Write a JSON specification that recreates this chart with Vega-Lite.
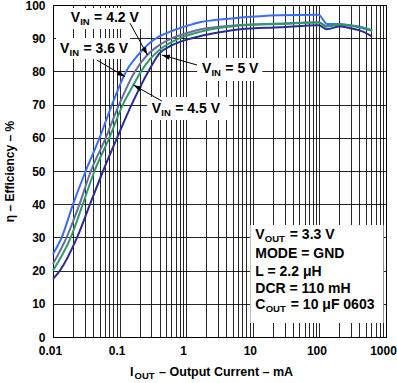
{
  "$schema": "https://vega.github.io/schema/vega-lite/v6.json",
  "width": 333,
  "height": 332,
  "autosize": "none",
  "padding": {"left": 53, "top": 5, "right": 11, "bottom": 46},
  "config": {
    "font": "Liberation Sans",
    "view": {"stroke": "#000", "strokeWidth": 1},
    "axis": {
      "labelFont": "Liberation Sans", "labelFontWeight": "bold", "labelFontSize": 12, "labelColor": "#000",
      "titleFont": "Liberation Sans", "titleFontWeight": "bold", "titleFontSize": 12, "titleColor": "#000",
      "gridColor": "#000", "gridOpacity": 0.85, "gridWidth": 1, "domain": false, "tickSize": 0, "labelPadding": 8
    }
  },
  "datasets": {
    "curves": [
      {"s": "3.6 V", "I": 0.01, "eff": 25}, {"s": "3.6 V", "I": 0.0135, "eff": 30}, {"s": "3.6 V", "I": 0.02, "eff": 40}, {"s": "3.6 V", "I": 0.031, "eff": 50}, {"s": "3.6 V", "I": 0.05, "eff": 60}, {"s": "3.6 V", "I": 0.077, "eff": 70}, {"s": "3.6 V", "I": 0.125, "eff": 80}, {"s": "3.6 V", "I": 0.2, "eff": 85.5}, {"s": "3.6 V", "I": 0.28, "eff": 88.5}, {"s": "3.6 V", "I": 0.4, "eff": 90.6}, {"s": "3.6 V", "I": 0.65, "eff": 92.4}, {"s": "3.6 V", "I": 1.1, "eff": 93.9}, {"s": "3.6 V", "I": 1.6, "eff": 94.8}, {"s": "3.6 V", "I": 2.5, "eff": 95.4}, {"s": "3.6 V", "I": 6.5, "eff": 96.2}, {"s": "3.6 V", "I": 25, "eff": 96.9}, {"s": "3.6 V", "I": 97, "eff": 97.1}, {"s": "3.6 V", "I": 130, "eff": 94.3}, {"s": "3.6 V", "I": 200, "eff": 94.2}, {"s": "3.6 V", "I": 290, "eff": 93.8}, {"s": "3.6 V", "I": 450, "eff": 93}, {"s": "3.6 V", "I": 620, "eff": 92.3},
      {"s": "4.2 V", "I": 0.01, "eff": 22}, {"s": "4.2 V", "I": 0.016, "eff": 30}, {"s": "4.2 V", "I": 0.025, "eff": 40}, {"s": "4.2 V", "I": 0.037, "eff": 50}, {"s": "4.2 V", "I": 0.062, "eff": 60}, {"s": "4.2 V", "I": 0.098, "eff": 70}, {"s": "4.2 V", "I": 0.17, "eff": 80}, {"s": "4.2 V", "I": 0.262, "eff": 85}, {"s": "4.2 V", "I": 0.4, "eff": 88}, {"s": "4.2 V", "I": 0.58, "eff": 89.8}, {"s": "4.2 V", "I": 1, "eff": 91.5}, {"s": "4.2 V", "I": 1.6, "eff": 92.6}, {"s": "4.2 V", "I": 6.5, "eff": 94}, {"s": "4.2 V", "I": 26, "eff": 94.4}, {"s": "4.2 V", "I": 97, "eff": 94.8}, {"s": "4.2 V", "I": 130, "eff": 93.6}, {"s": "4.2 V", "I": 200, "eff": 94.2}, {"s": "4.2 V", "I": 290, "eff": 93.9}, {"s": "4.2 V", "I": 450, "eff": 93.2}, {"s": "4.2 V", "I": 620, "eff": 92.3},
      {"s": "4.5 V", "I": 0.01, "eff": 20}, {"s": "4.5 V", "I": 0.0185, "eff": 30}, {"s": "4.5 V", "I": 0.028, "eff": 40}, {"s": "4.5 V", "I": 0.042, "eff": 50}, {"s": "4.5 V", "I": 0.07, "eff": 60}, {"s": "4.5 V", "I": 0.112, "eff": 70}, {"s": "4.5 V", "I": 0.16, "eff": 75.8}, {"s": "4.5 V", "I": 0.2, "eff": 79.3}, {"s": "4.5 V", "I": 0.28, "eff": 83.5}, {"s": "4.5 V", "I": 0.4, "eff": 86.5}, {"s": "4.5 V", "I": 0.8, "eff": 90}, {"s": "4.5 V", "I": 1.6, "eff": 91.9}, {"s": "4.5 V", "I": 6.5, "eff": 93.8}, {"s": "4.5 V", "I": 26, "eff": 94.3}, {"s": "4.5 V", "I": 97, "eff": 94.7}, {"s": "4.5 V", "I": 130, "eff": 93.5}, {"s": "4.5 V", "I": 200, "eff": 94.1}, {"s": "4.5 V", "I": 290, "eff": 93.8}, {"s": "4.5 V", "I": 450, "eff": 93.1}, {"s": "4.5 V", "I": 620, "eff": 92.2},
      {"s": "5 V", "I": 0.01, "eff": 17.5}, {"s": "5 V", "I": 0.0127, "eff": 20}, {"s": "5 V", "I": 0.023, "eff": 30}, {"s": "5 V", "I": 0.036, "eff": 40}, {"s": "5 V", "I": 0.0565, "eff": 50}, {"s": "5 V", "I": 0.0917, "eff": 60}, {"s": "5 V", "I": 0.1515, "eff": 70}, {"s": "5 V", "I": 0.27, "eff": 80}, {"s": "5 V", "I": 0.4, "eff": 85.5}, {"s": "5 V", "I": 0.6, "eff": 87.8}, {"s": "5 V", "I": 1, "eff": 89.5}, {"s": "5 V", "I": 1.6, "eff": 90.6}, {"s": "5 V", "I": 3, "eff": 91.7}, {"s": "5 V", "I": 6.5, "eff": 92.7}, {"s": "5 V", "I": 26, "eff": 93.3}, {"s": "5 V", "I": 97, "eff": 93.9}, {"s": "5 V", "I": 130, "eff": 92.7}, {"s": "5 V", "I": 200, "eff": 93.5}, {"s": "5 V", "I": 290, "eff": 93}, {"s": "5 V", "I": 450, "eff": 92}, {"s": "5 V", "I": 620, "eff": 90.5}
    ],
    "boxes": [
      {"I": 0.01569, "I2": 0.2105, "eff": 99.1, "eff2": 92.77},
      {"I": 0.0111, "I2": 0.1438, "eff": 90.06, "eff2": 83.73},
      {"I": 1.464, "I2": 13.9, "eff": 84.04, "eff2": 77.11},
      {"I": 0.2592, "I2": 4.43, "eff": 72.29, "eff2": 65.36},
      {"I": 9.17, "I2": 917, "eff": 33.73, "eff2": 4.22}
    ],
    "arrows": [
      {"id": "4.2", "I": 0.1438, "eff": 94.49, "I2": 0.2618, "eff2": 84.94},
      {"id": "3.6", "I": 0.0454, "eff": 83.43, "I2": 0.121, "eff2": 78.4},
      {"id": "5", "I": 1.449, "eff": 81.93, "I2": 0.431, "eff2": 84.94},
      {"id": "4.5", "I": 0.431, "eff": 71.08, "I2": 0.1615, "eff2": 75.9}
    ],
    "heads": [
      {"id": "4.2", "I": 0.2618, "eff": 84.94},
      {"id": "3.6", "I": 0.121, "eff": 78.4},
      {"id": "5", "I": 0.431, "eff": 84.94},
      {"id": "4.5", "I": 0.1615, "eff": 75.9}
    ],
    "labels": [
      {"g": "vin", "main": "V", "sub": "IN", "rest": "= 4.2 V", "I": 0.01845, "eff": 94.97},
      {"g": "vin", "main": "V", "sub": "IN", "rest": "= 3.6 V", "I": 0.01274, "eff": 85.45},
      {"g": "vin", "main": "V", "sub": "IN", "rest": "= 5 V", "I": 1.722, "eff": 79.43},
      {"g": "vin", "main": "V", "sub": "IN", "rest": "= 4.5 V", "I": 0.3049, "eff": 67.38},
      {"g": "vout", "main": "V", "sub": "OUT", "rest": "= 3.3 V", "I": 10.9, "eff": 29.43},
      {"g": "plain", "main": "MODE = GND", "sub": "", "rest": "", "I": 10.9, "eff": 23.7},
      {"g": "plain", "main": "L = 2.2 μH", "sub": "", "rest": "", "I": 10.9, "eff": 18.37},
      {"g": "plain", "main": "DCR = 110 mH", "sub": "", "rest": "", "I": 10.9, "eff": 13.25},
      {"g": "cout", "main": "C", "sub": "OUT", "rest": "= 10 μF 0603", "I": 10.9, "eff": 8.34},
      {"g": "title", "main": "I", "sub": "OUT", "rest": "– Output Current – mA", "I": 0.1438, "eff": -11.6}
    ]
  },
  "encoding": {
    "x": {"field": "I", "type": "quantitative", "scale": {"type": "log", "domain": [0.01, 1000], "nice": false},
      "axis": {"title": null, "grid": true, "values": [0.01,0.02,0.03,0.04,0.05,0.06,0.07,0.08,0.09,0.1,0.2,0.3,0.4,0.5,0.6,0.7,0.8,0.9,1,2,3,4,5,6,7,8,9,10,20,30,40,50,60,70,80,90,100,200,300,400,500,600,700,800,900,1000],
        "format": "~g", "labelExpr": "indexof(['0.01','0.1','1','10','100','1000'], datum.label) >= 0 ? datum.label : ''", "labelOverlap": false, "labelFlush": false, "labelOffset": -3}},
    "y": {"field": "eff", "type": "quantitative", "scale": {"domain": [0, 100], "nice": false},
      "axis": {"title": "η – Efficiency – %", "grid": true, "values": [0,10,20,30,40,50,60,70,80,90,100], "labelOverlap": false, "titlePadding": 8}}
  },
  "layer": [
    {
      "data": {"name": "curves"},
      "mark": {"type": "line", "strokeWidth": 2, "interpolate": "monotone"},
      "encoding": {
        "color": {"field": "s", "type": "nominal", "legend": null,
          "scale": {"domain": ["3.6 V", "4.2 V", "4.5 V", "5 V"], "range": ["#3a6cf4", "#6c6c9e", "#2e9a68", "#2b2b94"]}}
      }
    },
    {
      "data": {"name": "boxes"},
      "mark": {"type": "rect", "color": "#fff"},
      "encoding": {"x2": {"field": "I2"}, "y2": {"field": "eff2"}}
    },
    {
      "data": {"name": "arrows"},
      "mark": {"type": "rule", "color": "#000", "strokeWidth": 1},
      "encoding": {"x2": {"field": "I2"}, "y2": {"field": "eff2"}}
    },
    {
      "data": {"name": "heads"},
      "transform": [{"filter": "datum.id == '4.2'"}],
      "mark": {"type": "point", "shape": "M0,0L-0.32,1L0.32,1Z", "filled": true, "color": "#000", "opacity": 1, "size": 256, "angle": 151},
      "encoding": {}
    },
    {
      "data": {"name": "heads"},
      "transform": [{"filter": "datum.id == '3.6'"}],
      "mark": {"type": "point", "shape": "M0,0L-0.32,1L0.32,1Z", "filled": true, "color": "#000", "opacity": 1, "size": 256, "angle": 120},
      "encoding": {}
    },
    {
      "data": {"name": "heads"},
      "transform": [{"filter": "datum.id == '5'"}],
      "mark": {"type": "point", "shape": "M0,0L-0.32,1L0.32,1Z", "filled": true, "color": "#000", "opacity": 1, "size": 256, "angle": 286},
      "encoding": {}
    },
    {
      "data": {"name": "heads"},
      "transform": [{"filter": "datum.id == '4.5'"}],
      "mark": {"type": "point", "shape": "M0,0L-0.32,1L0.32,1Z", "filled": true, "color": "#000", "opacity": 1, "size": 256, "angle": 299},
      "encoding": {}
    },
    {
      "data": {"name": "labels"},
      "transform": [{"filter": "datum.g != 'title'"}],
      "mark": {"type": "text", "align": "left", "baseline": "alphabetic", "font": "Liberation Sans", "fontWeight": "bold", "fontSize": 14, "color": "#000"},
      "encoding": {"text": {"field": "main"}}
    },
    {
      "data": {"name": "labels"},
      "transform": [{"filter": "datum.g == 'vin' || datum.g == 'vout'"}],
      "mark": {"type": "text", "align": "left", "baseline": "alphabetic", "font": "Liberation Sans", "fontWeight": "bold", "fontSize": 9.5, "color": "#000", "dx": 9.5, "dy": 3},
      "encoding": {"text": {"field": "sub"}}
    },
    {
      "data": {"name": "labels"},
      "transform": [{"filter": "datum.g == 'cout'"}],
      "mark": {"type": "text", "align": "left", "baseline": "alphabetic", "font": "Liberation Sans", "fontWeight": "bold", "fontSize": 9.5, "color": "#000", "dx": 10.4, "dy": 3},
      "encoding": {"text": {"field": "sub"}}
    },
    {
      "data": {"name": "labels"},
      "transform": [{"filter": "datum.g == 'vin'"}],
      "mark": {"type": "text", "align": "left", "baseline": "alphabetic", "font": "Liberation Sans", "fontWeight": "bold", "fontSize": 14, "color": "#000", "dx": 23.4},
      "encoding": {"text": {"field": "rest"}}
    },
    {
      "data": {"name": "labels"},
      "transform": [{"filter": "datum.g == 'vout'"}],
      "mark": {"type": "text", "align": "left", "baseline": "alphabetic", "font": "Liberation Sans", "fontWeight": "bold", "fontSize": 14, "color": "#000", "dx": 34.5},
      "encoding": {"text": {"field": "rest"}}
    },
    {
      "data": {"name": "labels"},
      "transform": [{"filter": "datum.g == 'cout'"}],
      "mark": {"type": "text", "align": "left", "baseline": "alphabetic", "font": "Liberation Sans", "fontWeight": "bold", "fontSize": 14, "color": "#000", "dx": 35.5},
      "encoding": {"text": {"field": "rest"}}
    },
    {
      "data": {"name": "labels"},
      "transform": [{"filter": "datum.g == 'title'"}],
      "mark": {"type": "text", "align": "left", "baseline": "alphabetic", "font": "Liberation Sans", "fontWeight": "bold", "fontSize": 12.5, "color": "#000"},
      "encoding": {"text": {"field": "main"}}
    },
    {
      "data": {"name": "labels"},
      "transform": [{"filter": "datum.g == 'title'"}],
      "mark": {"type": "text", "align": "left", "baseline": "alphabetic", "font": "Liberation Sans", "fontWeight": "bold", "fontSize": 9.5, "color": "#000", "dx": 4.5, "dy": 3},
      "encoding": {"text": {"field": "sub"}}
    },
    {
      "data": {"name": "labels"},
      "transform": [{"filter": "datum.g == 'title'"}],
      "mark": {"type": "text", "align": "left", "baseline": "alphabetic", "font": "Liberation Sans", "fontWeight": "bold", "fontSize": 12.5, "color": "#000", "dx": 29},
      "encoding": {"text": {"field": "rest"}}
    }
  ]
}
